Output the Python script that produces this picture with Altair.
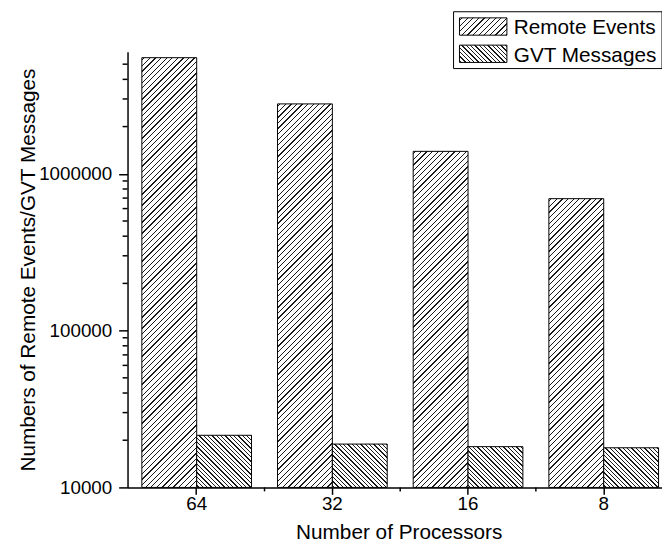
import math
import altair as alt

# ---------------- data ----------------
processors = ["64", "32", "16", "8"]
series = ["Remote Events", "GVT Messages"]
remote_events = [5500000, 2790000, 1390000, 694000]
gvt_messages = [21500, 18900, 18200, 17900]
y_major_ticks = [10000, 100000, 1000000]
y_minor_ticks = [20000, 30000, 40000, 50000, 60000, 70000, 80000, 90000,
                 200000, 300000, 400000, 500000, 600000, 700000, 800000, 900000,
                 2000000, 3000000, 4000000, 5000000]

# ---------------- layout ----------------
FONT = "Liberation Sans"
W_PLOT = 541
H_PLOT = 441
X_RANGE = [0, 552]
X_PAD_OUTER = 0.0097
OFF_PAD_OUTER = 0.237
Y_DOMAIN = [10000, 6000000]
STEP = X_RANGE[1] / (len(processors) + 2 * X_PAD_OUTER)
BAR_W = STEP / (2 + 2 * OFF_PAD_OUTER)
PERIODS = {"Remote Events": (4.0, "/"), "GVT Messages": (3.1, "\\")}
TICK_FS = 19


def hatch(w, h, period, direction, lw=0.9, color="#1a1a1a"):
    """Linear gradient (bounding-box units) that draws 45 degree hatching."""
    L = (w + h) / math.sqrt(2)
    lam = (w + h) / (w * w + h * h)
    if direction == "/":
        x1, y1, x2, y2 = 0, 0, lam * w, lam * h
    else:
        x1, y1, x2, y2 = 0, 1, lam * w, 1 - lam * h
    d = lw / L
    stops = [{"offset": 0, "color": "white"}]
    i = 0
    while True:
        tc = (i + 0.5) * period / L
        if tc - d / 2 >= 1:
            break
        a = max(0.0, tc - d / 2)
        b = min(1.0, tc + d / 2)
        stops += [{"offset": a, "color": "white"}, {"offset": a, "color": color},
                  {"offset": b, "color": color}, {"offset": b, "color": "white"}]
        i += 1
    stops.append({"offset": 1, "color": "white"})
    return {"gradient": "linear", "x1": x1, "y1": y1, "x2": x2, "y2": y2, "stops": stops}


def bar_px(v):
    lo, hi = math.log10(Y_DOMAIN[0]), math.log10(Y_DOMAIN[1])
    return H_PLOT * (math.log10(v) - lo) / (hi - lo)


rows = []
for i, p in enumerate(processors):
    for s, vals in zip(series, [remote_events, gvt_messages]):
        per, dr = PERIODS[s]
        v = vals[i]
        rows.append({"proc": p, "series": s, "value": v,
                     "grad": hatch(BAR_W, bar_px(v), per, dr)})

x_enc = alt.X(
    "proc:N", sort=processors,
    scale=alt.Scale(range=X_RANGE, paddingInner=0, paddingOuter=X_PAD_OUTER),
    axis=alt.Axis(title="Number of Processors", labelAngle=0, tickSize=7,
                  tickWidth=1.5, tickColor="black", domainColor="black",
                  domainWidth=1.5, labelPadding=0, labelFontSize=TICK_FS,
                  labelColor="black", labelFont=FONT, titleFont=FONT,
                  titleFontSize=21, titleFontWeight="normal", titleColor="black",
                  titleX=274.5, titleY=52, titleBaseline="alphabetic",
                  titleAlign="center", grid=False),
)

y_enc = alt.Y(
    "value:Q", stack=None,
    scale=alt.Scale(type="log", domain=Y_DOMAIN, nice=False),
    axis=alt.Axis(title="Numbers of Remote Events/GVT Messages",
                  values=y_major_ticks, format="d", tickSize=9, tickWidth=1.5,
                  tickColor="black", domainColor="black", domainWidth=1.5,
                  labelPadding=7, labelFontSize=TICK_FS, labelColor="black",
                  labelFont=FONT, titleFont=FONT, titleFontSize=21,
                  titleFontWeight="normal", titleColor="black",
                  titleAngle=270, titleX=-94, titleY=H_PLOT / 2,
                  titleAlign="center", titleBaseline="alphabetic", grid=False),
)

bars = alt.Chart(alt.Data(values=rows)).mark_bar(stroke="black", strokeWidth=1).encode(
    x=x_enc,
    xOffset=alt.XOffset("series:N", sort=series,
                        scale=alt.Scale(paddingInner=0, paddingOuter=OFF_PAD_OUTER)),
    y=y_enc,
    fill=alt.Fill("grad:N", scale=None),
)

x_minor = alt.Chart(alt.Data(values=[{"proc": p} for p in processors[1:]])).mark_rule(
    color="black", strokeWidth=1.5
).encode(
    x=alt.X("proc:N", sort=processors, bandPosition=0),
    y=alt.value(H_PLOT),
    y2=alt.value(H_PLOT + 4),
)

y_minor = alt.Chart(alt.Data(values=[{"value": v} for v in y_minor_ticks])).mark_rule(
    color="black", strokeWidth=1.5
).encode(
    y=alt.Y("value:Q"),
    x=alt.value(-5),
    x2=alt.value(0),
)

# ---------------- legend ----------------
legend_box = alt.Chart(alt.Data(values=[{"k": 0}])).mark_rect(
    fill="white", stroke="black", strokeWidth=1
).encode(
    x=alt.value(330), x2=alt.value(541), y=alt.value(-40.5), y2=alt.value(17)
)

legend_layers = [legend_box]
sw_top = [-34.3, -6.7]
txt_base = [-17.5, 10]
for i, s in enumerate(series):
    per, dr = PERIODS[s]
    d = alt.Data(values=[{"series": s}])
    legend_layers.append(
        alt.Chart(d).mark_rect(stroke="black", strokeWidth=1).encode(
            x=alt.value(336), x2=alt.value(384),
            y=alt.value(sw_top[i]), y2=alt.value(sw_top[i] + 17.5),
            fill=alt.value(hatch(48, 17.5, per, dr)),
        )
    )
    legend_layers.append(
        alt.Chart(d).mark_text(align="left", baseline="alphabetic", fontSize=21,
                               font=FONT, color="black").encode(
            x=alt.value(391), y=alt.value(txt_base[i]), text="series:N"
        )
    )

chart = alt.layer(bars, x_minor, y_minor, *legend_layers).properties(
    width=W_PLOT,
    height=H_PLOT,
    autosize=alt.AutoSizeParams(type="none"),
    padding={"left": 121, "top": 41, "right": 0, "bottom": 56},
).configure(font=FONT).configure_view(stroke=None).configure_axis(
    labelFontSize=TICK_FS, labelFont=FONT
)

chart.save("out.html", embed_options={"renderer": "svg", "actions": False})
